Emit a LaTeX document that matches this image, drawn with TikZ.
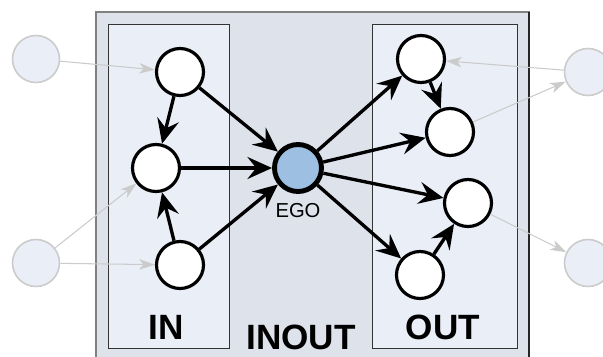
\documentclass[tikz,border=0pt]{standalone}
\usepackage{fontspec}
\setmainfont{Liberation Sans}
\usetikzlibrary{arrows.meta}

\definecolor{ringfill}{HTML}{DEE2EA}
\definecolor{boxfill}{HTML}{E9EEF7}
\definecolor{egofill}{HTML}{9DC0E2}
\definecolor{faint}{HTML}{CBCBCB}

\begin{document}
\begin{tikzpicture}[x=0.02cm, y=-0.02cm,
  >={Stealth[length=14pt, width=12.5pt, inset=5pt]},
  member/.style={circle, draw, line width=1.8pt, fill=white, minimum size=0.94cm, inner sep=0pt},
  alter/.style={circle, draw=faint, line width=0.9pt, fill=boxfill, minimum size=0.94cm, inner sep=0pt},
  tie/.style={->, line width=1.9pt},
  weak/.style={-{Stealth[length=9pt, width=6pt, inset=2.5pt]}, draw=faint, line width=0.6pt},
  group/.style={font=\fontsize{20}{24}\selectfont\bfseries}]
\useasboundingbox (0,0) rectangle (603,356);

% outer box and the two groups
\filldraw[fill=ringfill, draw=black!50, line width=0.6pt] (96,12) rectangle (529,380);
\draw[black!85, line width=0.8pt] (529,12) -- (529,380);
\filldraw[fill=boxfill, draw=black!80, line width=0.5pt] (108,24) rectangle (229,348);
\filldraw[fill=boxfill, draw=black!80, line width=0.5pt] (372,24) rectangle (517,348);

% ego
\node[member, fill=egofill, line width=2.8pt] (E) at (298,168) {};
\node[font=\fontsize{11.5}{14}\selectfont] (Elab) at (298,211) {EGO};

% IN nodes (left)
\node[member] (I1) at (180,72) {};
\node[member] (I2) at (156,168) {};
\node[member] (I3) at (180,265) {};

% OUT nodes (right)
\node[member] (O1) at (421,59) {};
\node[member] (O2) at (450,132) {};
\node[member] (O3) at (468,203) {};
\node[member] (O4) at (420,275) {};

% outside nodes
\node[alter] (L1) at (36,59) {};
\node[alter] (L2) at (36,263) {};
\node[alter] (R1) at (588,72) {};
\node[alter] (R2) at (588,263) {};

% group labels
\node[group] (inlab) at (166,327) {IN};
\node[group] (inoutlab) at (301,337) {INOUT};
\node[group] (outlab) at (443,327) {OUT};

% outside ties
\draw[weak] (L1) -- (I1);
\draw[weak] (L2) -- (I2);
\draw[weak] (L2) -- (I3);
\draw[weak] (R1) -- (O1);
\draw[weak] (O2) -- (R1);
\draw[weak] (O3) -- (R2);

% ties inside
\draw[tie] (I1) -- (I2);
\draw[tie] (I3) -- (I2);
\draw[tie] (I1) -- (E);
\draw[tie] (I2) -- (E);
\draw[tie] (I3) -- (E);
\draw[tie] (E) -- (O1);
\draw[tie] (E) -- (O2);
\draw[tie] (E) -- (O3);
\draw[tie] (E) -- (O4);
\draw[tie] (O1) -- (O2);
\draw[tie] (O4) -- (O3);
\end{tikzpicture}
\end{document}
